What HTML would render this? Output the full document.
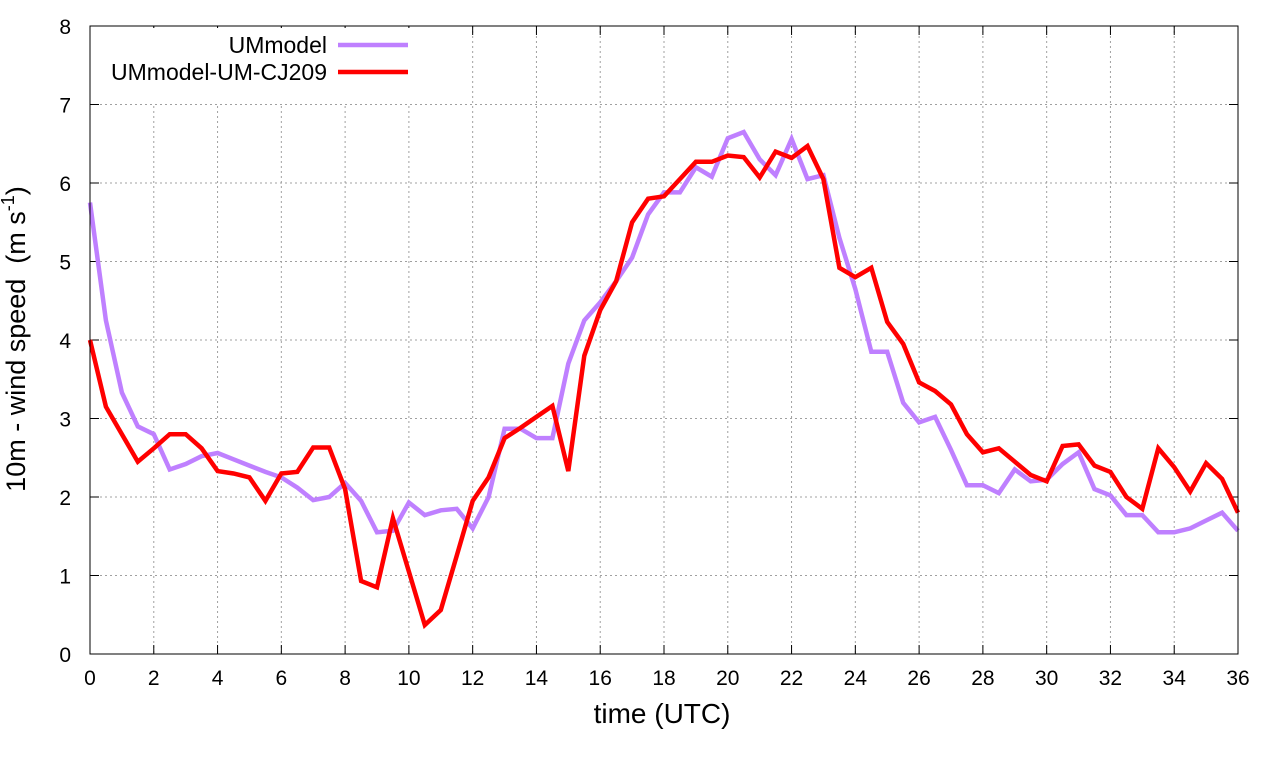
<!DOCTYPE html>
<html><head><meta charset="utf-8"><style>
html,body{margin:0;padding:0;background:#fff;}
svg text{font-family:"Liberation Sans",sans-serif;}
</style></head><body>
<svg id="s" width="1280" height="760" xmlns="http://www.w3.org/2000/svg"></svg>
<script>
const s=document.getElementById('s');
const X=v=>90+v*1148/36, Y=v=>654-v*78.5;
let h='';
for(let i=0;i<=18;i++){const x=X(i*2);
 if(i>0&&i<18)h+=`<line x1="${x}" y1="26" x2="${x}" y2="654" stroke="#a0a0a0" stroke-dasharray="2,3" stroke-width="1"/>`;
 h+=`<line x1="${x}" y1="654" x2="${x}" y2="645" stroke="#000"/><line x1="${x}" y1="26" x2="${x}" y2="35" stroke="#000"/>`;
 h+=`<text x="${x}" y="685" font-size="21" text-anchor="middle">${i*2}</text>`;}
for(let j=0;j<=8;j++){const y=Y(j);
 if(j>0&&j<8)h+=`<line x1="90" y1="${y}" x2="1238" y2="${y}" stroke="#a0a0a0" stroke-dasharray="2,3" stroke-width="1"/>`;
 h+=`<line x1="90" y1="${y}" x2="99" y2="${y}" stroke="#000"/><line x1="1238" y1="${y}" x2="1229" y2="${y}" stroke="#000"/>`;
 h+=`<text x="71" y="${y+8}" font-size="21" text-anchor="end">${j}</text>`;}
h+=`<rect x="94" y="28" width="326" height="76" fill="#fff"/>`;
const r=[4.0,3.15,2.8,2.45,2.62,2.8,2.8,2.62,2.33,2.3,2.25,1.95,2.3,2.32,2.63,2.63,2.1,0.93,0.85,1.73,1.05,0.37,0.56,1.25,1.95,2.25,2.75,2.88,3.02,3.16,2.33,3.8,4.38,4.75,5.5,5.8,5.83,6.05,6.27,6.27,6.35,6.33,6.07,6.4,6.32,6.47,6.05,4.92,4.8,4.92,4.23,3.95,3.46,3.35,3.18,2.8,2.57,2.62,2.45,2.28,2.2,2.65,2.67,2.4,2.32,2.0,1.85,2.62,2.38,2.07,2.43,2.23,1.8];
const p=[5.75,4.25,3.33,2.9,2.8,2.35,2.42,2.52,2.56,2.48,2.4,2.32,2.25,2.12,1.96,2.0,2.18,1.95,1.55,1.57,1.93,1.77,1.83,1.85,1.6,2.0,2.87,2.87,2.75,2.75,3.7,4.25,4.48,4.75,5.05,5.6,5.88,5.88,6.2,6.08,6.57,6.65,6.3,6.1,6.56,6.05,6.1,5.3,4.65,3.85,3.85,3.2,2.95,3.02,2.6,2.15,2.15,2.05,2.35,2.2,2.22,2.42,2.57,2.1,2.02,1.77,1.77,1.55,1.55,1.6,1.7,1.8,1.57];
const pts=a=>a.map((v,i)=>X(i*0.5).toFixed(1)+','+Y(v).toFixed(1)).join(' ');
h+=`<polyline points="${pts(p)}" fill="none" stroke="#bf80ff" stroke-width="4.5" stroke-linejoin="miter"/>`;
h+=`<polyline points="${pts(r)}" fill="none" stroke="#ff0000" stroke-width="4.5" stroke-linejoin="miter"/>`;
h+=`<rect x="90" y="26" width="1148" height="628" fill="none" stroke="#000" stroke-width="1"/>`;
h+=`<text x="327" y="53" font-size="23" text-anchor="end">UMmodel</text><line x1="338" y1="45" x2="408" y2="45" stroke="#bf80ff" stroke-width="4.5"/>`;
h+=`<text x="327" y="80" font-size="23" text-anchor="end">UMmodel-UM-CJ209</text><line x1="338" y1="72" x2="408" y2="72" stroke="#ff0000" stroke-width="4.5"/>`;
h+=`<text x="662" y="723" font-size="28" text-anchor="middle">time (UTC)</text>`;
h+=`<text transform="translate(25,339) rotate(-90)" font-size="27" text-anchor="middle">10m - wind speed &#160;(m s<tspan font-size="18" dy="-11">-1</tspan><tspan dy="11">)</tspan></text>`;
s.innerHTML=h;
</script>
</body></html>
